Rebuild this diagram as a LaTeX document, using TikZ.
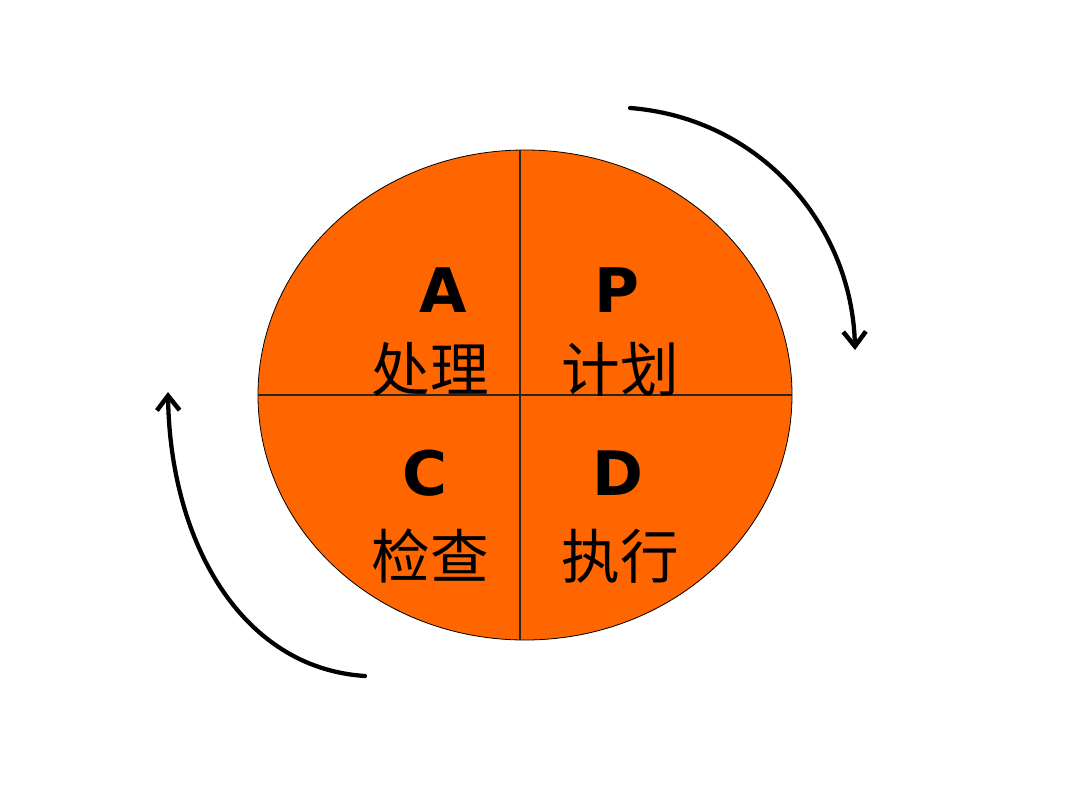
\documentclass[tikz,border=0pt]{standalone}
\usepackage{fontspec}
\setmainfont{DejaVu Sans}
\newfontfamily\cjk{Noto Sans CJK SC}
\usetikzlibrary{arrows.meta,shapes.geometric}
\definecolor{pdcaorange}{RGB}{255,102,0}
\tikzset{
  letter/.style={font=\fontsize{46}{50}\selectfont\bfseries, inner sep=0pt},
  word/.style={font=\cjk\fontsize{44}{48}\selectfont, inner sep=0pt},
  cyc/.style={line width=3.2pt, line cap=round, -{Straight Barb[length=11pt,width=17pt,line width=3.4pt]}},
  divider/.style={line width=0.9pt, draw=black!85}
}
\begin{document}
\begin{tikzpicture}[x=0.75pt,y=-0.75pt]
\useasboundingbox (0,0) rectangle (1080,810);
\fill[white] (0,0) rectangle (1080,810);
\node[ellipse, draw=black, line width=0.6pt, fill=pdcaorange, minimum width=534*0.75pt, minimum height=490*0.75pt, inner sep=0pt] (circ) at (525,395) {};
\coordinate (top) at (520,150);
\coordinate (bot) at (520,640);
\coordinate (lft) at (258,395);
\coordinate (rgt) at (792,395);
\draw[divider] (top) -- (bot);
\draw[divider] (lft) -- (rgt);
\node[letter] (A) at (443,290) {A};
\node[letter] (P) at (617,290) {P};
\node[letter] (C) at (425,473) {C};
\node[letter] (D) at (618,473) {D};
\node[word] (a) at (430,369) {处理};
\node[word] (p) at (620,369) {计划};
\node[word] (c) at (430,556) {检查};
\node[word] (d) at (620,556) {执行};
\coordinate (s1) at (630,108);
\coordinate (e1) at (855,350);
\coordinate (s2) at (365,676);
\coordinate (e2) at (168,392);
\draw[cyc] (s1) .. controls (760,118) and (852,225) .. (e1);
\draw[cyc] (s2) .. controls (240,668) and (170,540) .. (e2);
\end{tikzpicture}
\end{document}
